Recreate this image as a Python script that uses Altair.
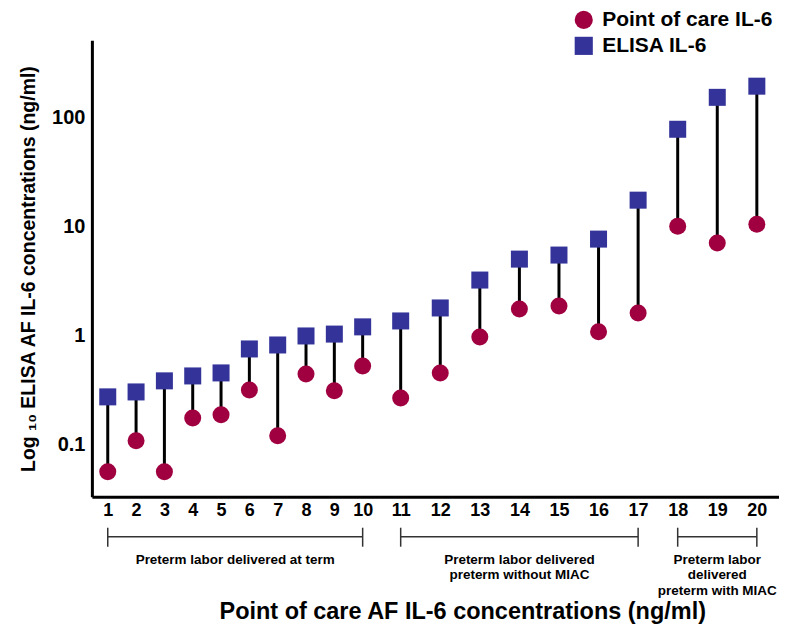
import altair as alt
import pandas as pd

# ---------------- data ----------------
cases = list(range(1, 21))
poc_il6 = [0.056, 0.108, 0.056, 0.175, 0.187, 0.316, 0.120, 0.443, 0.31, 0.525,
           0.267, 0.453, 0.97, 1.75, 1.87, 1.08, 1.61, 10.1, 7.06, 10.5]
elisa_il6 = [0.273, 0.303, 0.383, 0.425, 0.453, 0.752, 0.818, 0.99, 1.03, 1.20,
             1.36, 1.79, 3.23, 5.03, 5.48, 7.68, 17.5, 78.4, 154, 195]
series_names = ["Point of care IL-6", "ELISA IL-6"]
series_colors = ["#A00040", "#33339A"]
series_shapes = ["circle", "square"]
y_ticks = [0.1, 1, 10, 100]
group_first = [1, 11, 18]
group_last = [10, 17, 20]
group_labels = [
    ["Preterm labor delivered at term"],
    ["Preterm labor delivered", "preterm without MIAC"],
    ["Preterm labor", "delivered", "preterm with MIAC"],
]
y_title = "Log \u2081\u2080 ELISA AF IL-6 concentrations (ng/ml)"
x_title = "Point of care AF IL-6 concentrations (ng/ml)"

FONT = "Liberation Sans, Arial, Helvetica, sans-serif"
H = 457
PAD = 0.56
Y_DOMAIN = [0.033, 514]

wide = pd.DataFrame({"case": cases, "poc": poc_il6, "elisa": elisa_il6})
long = pd.concat([
    pd.DataFrame({"case": cases, "series": series_names[0], "value": poc_il6}),
    pd.DataFrame({"case": cases, "series": series_names[1], "value": elisa_il6}),
], ignore_index=True)
groups = pd.DataFrame({"first": group_first, "last": group_last, "label": group_labels})
caps = pd.DataFrame({"pos": group_first + group_last})


def panel(lo, hi, width, show_y, show_legend):
    case_vals = list(range(lo, hi + 1))
    xscale = alt.Scale(domain=[lo - PAD, hi + PAD], nice=False, zero=False)
    xaxis = alt.Axis(title=None, values=case_vals, format="d", ticks=False, grid=False,
                     labelFont=FONT, labelFontSize=18, labelFontWeight="bold",
                     labelColor="black", domainColor="black", domainWidth=3,
                     labelPadding=5, labelAngle=0, labelFlush=False)
    yscale = alt.Scale(type="log", domain=Y_DOMAIN, nice=False)
    if show_y:
        yaxis = alt.Axis(title=y_title, values=y_ticks, format="~g", ticks=False, grid=False,
                         labelFont=FONT, labelFontSize=20, labelFontWeight="bold",
                         labelColor="black", domainColor="black", domainWidth=3,
                         labelPadding=7, titleFont=FONT, titleFontSize=19.5,
                         titleFontWeight="bold", titleColor="black", titlePadding=13)
    else:
        yaxis = None

    w = wide[(wide["case"] >= lo) & (wide["case"] <= hi)]
    l = long[(long["case"] >= lo) & (long["case"] <= hi)]
    g = groups[(groups["first"] >= lo) & (groups["last"] <= hi)]
    c = caps[(caps["pos"] >= lo) & (caps["pos"] <= hi)]

    if show_legend:
        leg = alt.Legend(title=None, orient="none", legendX=195, legendY=-31,
                         labelFont=FONT, labelFontSize=21, labelFontWeight="bold",
                         labelColor="black", labelLimit=0, symbolSize=330,
                         symbolStrokeWidth=0, rowPadding=4, labelOffset=8, padding=0)
    else:
        leg = None

    rules = alt.Chart(w).mark_rule(color="black", strokeWidth=3).encode(
        x=alt.X("case:Q", scale=xscale, axis=xaxis),
        y=alt.Y("poc:Q", scale=yscale, axis=yaxis),
        y2="elisa:Q",
    )
    points = alt.Chart(l).mark_point(filled=True, size=290, opacity=1).encode(
        x=alt.X("case:Q", scale=xscale, axis=xaxis),
        y=alt.Y("value:Q", scale=yscale, axis=yaxis),
        color=alt.Color("series:N", scale=alt.Scale(domain=series_names, range=series_colors), legend=leg),
        shape=alt.Shape("series:N", scale=alt.Scale(domain=series_names, range=series_shapes), legend=leg),
    )
    bracket = alt.Chart(g).mark_rule(color="#333333", strokeWidth=1.5).encode(
        x=alt.X("first:Q", scale=xscale, axis=xaxis),
        x2="last:Q",
        y=alt.value(H + 40),
    )
    cap = alt.Chart(c).mark_rule(color="#333333", strokeWidth=1.5).encode(
        x=alt.X("pos:Q", scale=xscale, axis=xaxis),
        y=alt.value(H + 31),
        y2=alt.value(H + 50),
    )
    text = alt.Chart(g).transform_calculate(
        mid="(datum.first + datum.last) / 2"
    ).mark_text(baseline="top", align="center", font=FONT, fontSize=13.5,
                fontWeight="bold", lineHeight=15.5, color="black").encode(
        x=alt.X("mid:Q", scale=xscale, axis=xaxis),
        y=alt.value(H + 56),
        text="label",
    )
    return alt.layer(rules, points, bracket, cap, text).properties(width=width, height=H)


left = panel(1, 10, 287, True, False)
right = panel(11, 20, 401, False, True)

chart = alt.hconcat(left, right, spacing=0).resolve_scale(
    color="independent", shape="independent"
).resolve_legend(color="independent", shape="independent").properties(
    title=alt.TitleParams(x_title, orient="bottom", anchor="middle", font=FONT,
                          fontSize=23.5, fontWeight="bold", color="black", offset=3, dx=64),
    padding={"left": 10, "top": 1, "right": 0, "bottom": 0},
).configure_view(stroke=None)

chart.save("out.html", embed_options={"renderer": "svg", "actions": False})
